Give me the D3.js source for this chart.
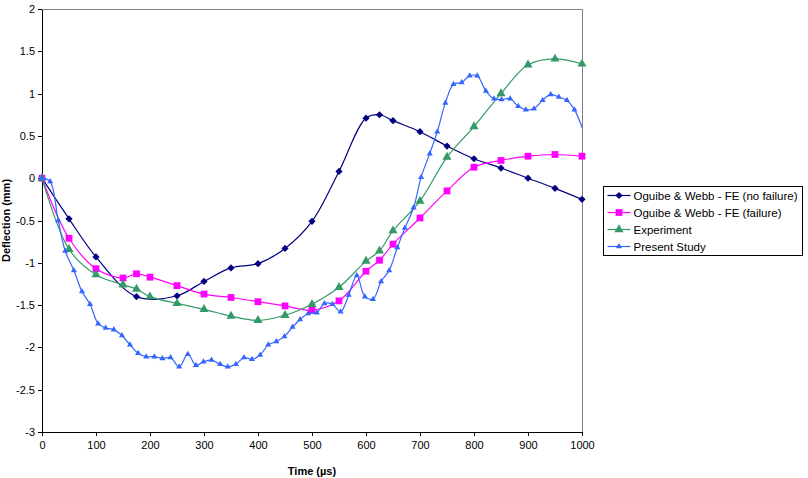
<!DOCTYPE html>
<html>
<head>
<meta charset="utf-8">
<script src="https://cdn.jsdelivr.net/npm/d3@7"></script>
<style>
    body { margin: 0; background: #fff; }
    svg { display: block; font-family: Arial, "Liberation Sans", sans-serif; }
</style>
</head>
<body>
<svg id="chart"></svg>
<script>
// deflection (mm) over time (µs)
const timeNoFail = [0, 50, 100, 175, 250, 300, 350, 400, 450, 500, 550, 600, 625, 650, 700, 750, 800, 850, 900, 950, 1000];
const defNoFail = [0, -0.48, -0.93, -1.40, -1.39, -1.22, -1.06, -1.01, -0.83, -0.51, 0.08, 0.71, 0.75, 0.68, 0.55, 0.38, 0.23, 0.12, 0.0, -0.12, -0.25];

const timeFail = [0, 50, 100, 150, 175, 200, 250, 300, 350, 400, 450, 500, 550, 600, 625, 650, 700, 750, 800, 850, 900, 950, 1000];
const defFail = [0, -0.71, -1.07, -1.18, -1.13, -1.17, -1.27, -1.37, -1.41, -1.46, -1.51, -1.56, -1.45, -1.10, -0.97, -0.78, -0.47, -0.15, 0.13, 0.21, 0.26, 0.28, 0.26];

const timeExp = [0, 50, 100, 150, 175, 200, 250, 300, 350, 400, 450, 500, 550, 600, 625, 650, 700, 750, 800, 850, 900, 950, 1000];
const defExp = [0, -0.84, -1.14, -1.26, -1.31, -1.40, -1.48, -1.55, -1.63, -1.68, -1.62, -1.49, -1.29, -0.98, -0.86, -0.62, -0.27, 0.25, 0.61, 1.00, 1.34, 1.41, 1.35];

const timeStudy = [0, 15, 30, 43, 59, 74, 89, 104, 118, 133, 148, 163, 178, 193, 208, 223, 238, 254, 270, 285,
    299, 314, 330, 344, 359, 374, 389, 404, 419, 434, 449, 464, 478, 493, 509, 523, 538, 553, 568, 583,
    598, 613, 628, 643, 658, 672, 688, 702, 718, 732, 747, 762, 777, 792, 806, 822, 837, 851, 867, 882,
    896, 911, 927, 942, 957, 972, 986, 1015];
const defStudy = [0, -0.04, -0.50, -0.86, -1.09, -1.34, -1.49, -1.72, -1.77, -1.79, -1.86, -1.97, -2.07, -2.11, -2.11, -2.13, -2.12, -2.23, -2.08, -2.21,
    -2.17, -2.15, -2.20, -2.23, -2.20, -2.12, -2.14, -2.09, -1.97, -1.93, -1.87, -1.76, -1.67, -1.60, -1.59, -1.48, -1.49, -1.58, -1.38, -1.15,
    -1.40, -1.43, -1.22, -1.09, -0.82, -0.59, -0.35, 0.01, 0.29, 0.55, 0.89, 1.11, 1.13, 1.21, 1.21, 1.03, 0.94, 0.93, 0.94, 0.85,
    0.81, 0.82, 0.92, 0.99, 0.96, 0.92, 0.81, 0.33];

const seriesNames = ['Oguibe & Webb - FE (no failure)', 'Oguibe & Webb - FE (failure)', 'Experiment', 'Present Study'];
const xTicks = [0, 100, 200, 300, 400, 500, 600, 700, 800, 900, 1000];
const yTicks = [-3, -2.5, -2, -1.5, -1, -0.5, 0, 0.5, 1, 1.5, 2];

// diamond = square turned 45 degrees, like the spreadsheet marker
const series = [
    {name: seriesNames[0], t: timeNoFail, v: defNoFail, color: '#000080', symbol: d3.symbolSquare, size: 26, rot: 45},
    {name: seriesNames[1], t: timeFail, v: defFail, color: '#FF00FF', symbol: d3.symbolSquare, size: 46, rot: 0},
    {name: seriesNames[2], t: timeExp, v: defExp, color: '#339966', symbol: d3.symbolTriangle, size: 36, rot: 0},
    {name: seriesNames[3], t: timeStudy, v: defStudy, color: '#3366FF', symbol: d3.symbolTriangle, size: 16, rot: 0}
];

const width = 808, height = 478;
const margin = {top: 9, right: 226, bottom: 46, left: 42};

const svg = d3.select('#chart')
    .attr('width', width)
    .attr('height', height);

const x = d3.scaleLinear().domain([0, 1000]).range([margin.left, width - margin.right]);
const y = d3.scaleLinear().domain([-3, 2]).range([height - margin.bottom, margin.top]);

// plot area border (top / right grey)
svg.append('rect')
    .attr('x', x(0)).attr('y', y(2))
    .attr('width', x(1000) - x(0)).attr('height', y(-3) - y(2))
    .attr('fill', 'none')
    .attr('stroke', '#808080')
    .attr('shape-rendering', 'crispEdges');

svg.append('clipPath').attr('id', 'plotclip')
    .append('rect')
    .attr('x', x(0)).attr('y', y(2))
    .attr('width', x(1000) - x(0)).attr('height', y(-3) - y(2));

const xAxis = svg.append('g')
    .attr('transform', `translate(0,${y(-3)})`)
    .call(d3.axisBottom(x).tickValues(xTicks).tickSize(4).tickSizeOuter(0).tickPadding(5).tickFormat(d3.format('d')));

const yAxis = svg.append('g')
    .attr('transform', `translate(${x(0)},0)`)
    .call(d3.axisLeft(y).tickValues(yTicks).tickSize(4).tickSizeOuter(0).tickPadding(3).tickFormat(d => String(d)));

[xAxis, yAxis].forEach(a => {
    a.selectAll('path, line').attr('stroke', '#000').attr('shape-rendering', 'crispEdges');
    a.selectAll('text').attr('fill', '#000').style('font-size', '11px').style('font-family', 'Arial, "Liberation Sans", sans-serif');
});

svg.append('text')
    .attr('x', (x(0) + x(1000)) / 2)
    .attr('y', 475)
    .attr('text-anchor', 'middle')
    .style('font-size', '11px')
    .style('font-weight', 'bold')
    .text('Time (µs)');

svg.append('text')
    .attr('transform', `translate(10,${(y(2) + y(-3)) / 2}) rotate(-90)`)
    .attr('text-anchor', 'middle')
    .style('font-size', '11px')
    .style('font-weight', 'bold')
    .text('Deflection (mm)');

const line = d3.line()
    .x(d => x(d[0]))
    .y(d => y(d[1]))
    .curve(d3.curveCatmullRom.alpha(0.5));

series.forEach(s => {
    const pts = s.t.map((t, i) => [t, s.v[i]]);
    svg.append('path')
        .datum(pts)
        .attr('clip-path', 'url(#plotclip)')
        .attr('fill', 'none')
        .attr('stroke', s.color)
        .attr('stroke-width', 1.2)
        .attr('d', line);
    svg.append('g')
        .selectAll('path')
        .data(pts.filter(d => d[0] <= 1000))
        .enter()
        .append('path')
            .attr('transform', d => `translate(${x(d[0])},${y(d[1])}) rotate(${s.rot})`)
            .attr('d', d3.symbol().type(s.symbol).size(s.size))
            .attr('fill', s.color);
});

// legend
const legend = svg.append('g').attr('transform', 'translate(603.5,186.5)');
legend.append('rect')
    .attr('width', 199).attr('height', 69)
    .attr('fill', '#fff')
    .attr('stroke', '#000');

series.forEach((s, i) => {
    const row = legend.append('g').attr('transform', `translate(0,${9 + i * 17})`);
    row.append('line')
        .attr('x1', 4).attr('x2', 27)
        .attr('stroke', s.color).attr('stroke-width', 1.2);
    row.append('path')
        .attr('transform', `translate(15.5,0) rotate(${s.rot})`)
        .attr('d', d3.symbol().type(s.symbol).size(s.size))
        .attr('fill', s.color);
    row.append('text')
        .attr('x', 30)
        .attr('dy', '0.35em')
        .style('font-size', '11.5px')
        .text(s.name);
});
</script>
</body>
</html>
